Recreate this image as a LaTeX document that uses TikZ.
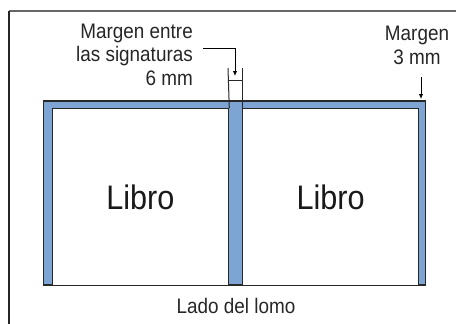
\documentclass[tikz,border=0pt]{standalone}
\usepackage{fontspec}
\setmainfont[FakeStretch=0.9]{Liberation Sans}
\usetikzlibrary{arrows.meta}
\definecolor{marginblue}{RGB}{126,164,212}
\definecolor{linegray}{RGB}{40,40,40}
\tikzset{
  lbl/.style={inner sep=0pt, font=\fontsize{21}{23.5}\selectfont, text=black!85},
  biglbl/.style={inner sep=0pt, font=\fontsize{34}{36}\selectfont, text=black!90},
  edge/.style={draw=linegray, line width=1.3pt},
  thin/.style={draw=linegray, line width=1pt},
  pointer/.style={draw=black, line width=0.9pt, -{Latex[length=5pt,width=4.5pt]}},
}
\begin{document}
\begin{tikzpicture}[x=1pt,y=-1pt]
\useasboundingbox (0,0) rectangle (456,324);
% frame (top and left only)
\draw[draw=black!60, line width=1.3pt] (456,11) -- (9,11);
\draw[draw=black!85, line width=1.3pt] (9,11) -- (9,324);
% outer margin band
\path[edge, fill=marginblue] (43.5,101) rectangle (425.5,285);
% pages
\node[draw=linegray, line width=1.3pt, fill=white, minimum width=176.5pt, minimum height=177pt, inner sep=0pt, anchor=north west] (pageL) at (51.5,108) {};
\node[draw=linegray, line width=1.3pt, fill=white, minimum width=176pt, minimum height=177pt, inner sep=0pt, anchor=north west] (pageR) at (242,108) {};
\node[biglbl] (libroL) at (pageL.center) {Libro};
\node[biglbl] (libroR) at (pageR.center) {Libro};
% spine guide lines
\coordinate (gL) at (228,68);
\coordinate (gR) at (242,68);
\draw[thin] (gL) -- (pageL.north east);
\draw[thin] (gR) -- (pageR.north west);
\draw[thin] (228,80) -- (242,80);
% labels
\node[lbl, align=right, anchor=base east] (sig) at (193,85) {Margen entre\\las signaturas\\6 mm};
\node[lbl, align=center, anchor=base] (mar) at (417,64) {Margen\\3 mm};
\node[lbl, anchor=base] (lomo) at (236,313) {Lado del lomo};
% pointers
\coordinate (sigA) at (203,48);
\coordinate (sigT) at (235,76);
\draw[pointer] (sigA) -- (sigT |- sigA) -- (sigT);
\coordinate (marA) at (421,77);
\coordinate (marT) at (421,99);
\draw[pointer] (marA) -- (marT);
\end{tikzpicture}
\end{document}
